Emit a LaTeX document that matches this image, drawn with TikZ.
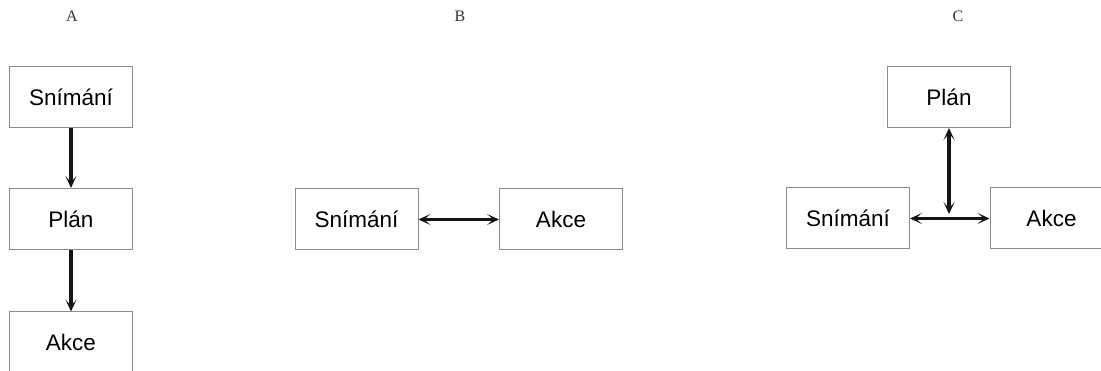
\documentclass[tikz,border=0pt]{standalone}
\usepackage{fontspec}
\setmainfont{Liberation Sans}
\newfontfamily\labelfont{Liberation Serif}
\usetikzlibrary{arrows.meta}
\begin{document}
\begin{tikzpicture}[x=1pt,y=-1pt,
  box/.style={draw=black!45, line width=1pt, fill=white, minimum width=123pt,
    minimum height=61pt, inner sep=0pt, font=\fontsize{22.5}{26}\selectfont},
  link/.style={line width=3.2pt, black!92,
    {Stealth[length=12pt,width=11pt,inset=6.5pt]}-{Stealth[length=12pt,width=11pt,inset=6.5pt]}},
  flow/.style={line width=3.2pt, black!92, -{Stealth[length=12pt,width=11pt,inset=6.5pt]}},
  panel/.style={font=\labelfont\fontsize{16}{18}\selectfont, text=black!80}]
\useasboundingbox (0,0) rectangle (1101,371);
% panel labels
\node[panel] (la) at (72,16.5) {A};
\node[panel] (lb) at (460,16.5) {B};
\node[panel] (lc) at (958,16.5) {C};
% A: sequential
\node[box] (as) at (71,97.5) {Snímání};
\node[box] (ap) at (71,219) {Plán};
\node[box] (aa) at (71,342.5) {Akce};
\draw[flow] (as) -- (ap);
\draw[flow] (ap) -- (aa);
% B: direct coupling
\node[box] (bs) at (356.5,219.5) {Snímání};
\node[box] (ba) at (561,219.5) {Akce};
\draw[link] (bs) -- (ba);
% C: hybrid
\node[box] (cp) at (949,97) {Plán};
\node[box] (cs) at (848,218.5) {Snímání};
\node[box] (ca) at (1051.5,218.5) {Akce};
\coordinate (cj) at (949,214);
\draw[link] (cs) -- (ca);
\draw[link] (cp.south) -- (cj);
\end{tikzpicture}
\end{document}
